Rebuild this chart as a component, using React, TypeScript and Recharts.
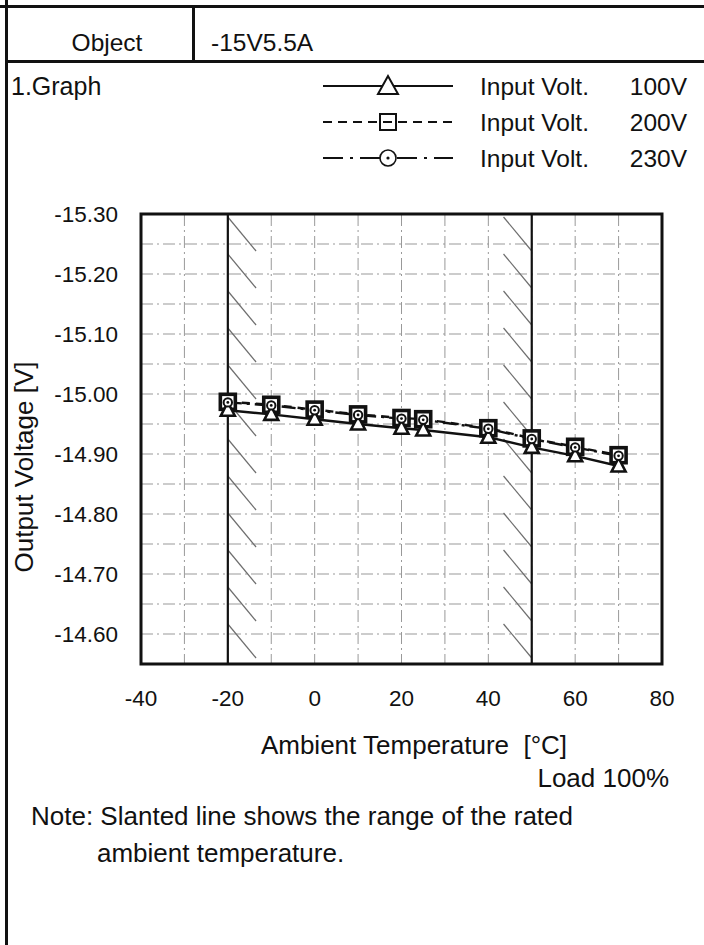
import React from 'react'
import {
  LineChart,
  Line,
  XAxis,
  YAxis,
  CartesianGrid,
  ReferenceLine,
  ReferenceArea,
  Legend,
} from 'recharts'

// Ambient temperature [°C] of each measurement point
const temps = [-20, -10, 0, 10, 20, 25, 40, 50, 60, 70]
// Output voltage [V] for each input voltage
const volt100 = [-14.973, -14.966, -14.958, -14.95, -14.943, -14.94, -14.928, -14.911, -14.897, -14.88]
const volt200 = [-14.987, -14.982, -14.974, -14.966, -14.96, -14.958, -14.943, -14.926, -14.912, -14.898]
const volt230 = [-14.986, -14.981, -14.973, -14.965, -14.959, -14.957, -14.942, -14.925, -14.911, -14.897]

const xTicks = [-40, -30, -20, -10, 0, 10, 20, 30, 40, 50, 60, 70, 80]
const yTicks = [
  -15.3, -15.25, -15.2, -15.15, -15.1, -15.05, -15.0, -14.95,
  -14.9, -14.85, -14.8, -14.75, -14.7, -14.65, -14.6, -14.55,
]
// rated ambient range, hatched inside both edges
const ratedRange = [-20, 50]

const FONT = '"Liberation Sans", Arial, Helvetica, sans-serif'
const INK = '#111'

type MarkerKind = 'triangle' | 'square' | 'circle'

const series: { key: string; volt: string; dash?: string; legendDash?: string; marker: MarkerKind }[] = [
  { key: 'v100', volt: '100V', marker: 'triangle' },
  { key: 'v200', volt: '200V', dash: '8 6', legendDash: '9 6', marker: 'square' },
  { key: 'v230', volt: '230V', dash: '14 5 3 5', legendDash: '20 7 3 7', marker: 'circle' },
]

const rows = temps.map((t, i) => ({ t, v100: volt100[i], v200: volt200[i], v230: volt230[i] }))

function Marker({ kind, cx, cy, big = false }: { kind: MarkerKind; cx: number; cy: number; big?: boolean }) {
  if (kind === 'triangle') {
    const h = big ? 10 : 8
    const b = big ? 8 : 5.5
    const w = big ? 10 : 7
    return (
      <polygon
        points={`${cx},${cy - h} ${cx - w},${cy + b} ${cx + w},${cy + b}`}
        fill="#fff"
        stroke={INK}
        strokeWidth={big ? 2 : 2.6}
        strokeLinejoin="miter"
      />
    )
  }
  if (kind === 'square') {
    const s = big ? 8 : 7.5
    return (
      <rect
        x={cx - s}
        y={cy - s}
        width={s * 2}
        height={s * 2}
        fill={big ? 'none' : '#fff'}
        stroke={INK}
        strokeWidth={big ? 2 : 3.6}
      />
    )
  }
  const r = big ? 8 : 4.2
  return (
    <g>
      <circle cx={cx} cy={cy} r={r} fill="#fff" stroke={INK} strokeWidth={big ? 1.6 : 2} />
      <circle cx={cx} cy={cy} r={big ? 1.6 : 1.4} fill={INK} />
    </g>
  )
}

// short slanted strokes marking the rated temperature band
function Hatch(props: any) {
  const { x, y, width, height } = props
  const step = 37
  const drop = 34
  const segs = []
  for (let y0 = y + 3; y0 < y + height - 4; y0 += step) {
    const y1 = Math.min(y0 + drop, y + height)
    const x1 = x + (width * (y1 - y0)) / drop
    segs.push(<line key={y0} x1={x} y1={y0} x2={x1} y2={y1} stroke="#6e6e6e" strokeWidth={1.2} />)
  }
  return <g>{segs}</g>
}

function LegendBox() {
  return (
    <svg width={386} height={110} style={{ display: 'block', overflow: 'visible' }}>
      {series.map((s, i) => {
        const y = 18 + i * 36
        return (
          <g key={s.key}>
            <line x1={5} x2={135} y1={y} y2={y} stroke={INK} strokeWidth={2} strokeDasharray={s.legendDash} />
            <Marker kind={s.marker} cx={70} cy={y} big />
            <text x={162} y={y} dy="0.36em" fontFamily={FONT} fontSize={24.5} fill={INK}>
              Input Volt.
            </text>
            <text x={369} y={y} dy="0.36em" textAnchor="end" fontFamily={FONT} fontSize={24.5} fill={INK}>
              {s.volt}
            </text>
          </g>
        )
      })}
    </svg>
  )
}

const textBase: React.CSSProperties = {
  position: 'absolute',
  fontFamily: FONT,
  color: INK,
  whiteSpace: 'nowrap',
  lineHeight: 1,
}

export default function App() {
  const tickStyle = { fill: INK, fontSize: 22.5, fontFamily: FONT }
  return (
    <div style={{ position: 'absolute', left: 0, top: 0, width: 704, height: 945, background: '#fff', overflow: 'hidden' }}>
      {/* sheet frame */}
      <div style={{ position: 'absolute', left: 5, top: 0, width: 3, height: 945, background: INK }} />
      <div style={{ position: 'absolute', left: 0, top: 5, width: 704, height: 2.5, background: INK }} />
      <div style={{ position: 'absolute', left: 5, top: 60, width: 699, height: 2.5, background: INK }} />
      <div style={{ position: 'absolute', left: 192, top: 6, width: 3, height: 55, background: INK }} />

      <div style={{ ...textBase, left: 107, top: 43, fontSize: 24.5, transform: 'translate(-50%, -50%)' }}>Object</div>
      <div style={{ ...textBase, left: 211, top: 43, fontSize: 24.5, transform: 'translateY(-50%)' }}>-15V5.5A</div>
      <div style={{ ...textBase, left: 11, top: 86, fontSize: 25, transform: 'translateY(-50%)' }}>1.Graph</div>

      <div style={{ position: 'absolute', left: 0, top: 0 }}>
        <LineChart width={704} height={945} data={rows} margin={{ top: 214, right: 42, bottom: 241, left: 61 }}>
          <CartesianGrid stroke="#999" strokeWidth={1} strokeDasharray="12 4 2 4" />
          <ReferenceArea x1={ratedRange[0]} x2={-13.5} fill="none" shape={Hatch} />
          <ReferenceArea x1={43.5} x2={ratedRange[1]} fill="none" shape={Hatch} />
          <ReferenceLine x={ratedRange[0]} stroke={INK} strokeWidth={2.2} />
          <ReferenceLine x={ratedRange[1]} stroke={INK} strokeWidth={2.2} />
          <XAxis
            type="number"
            dataKey="t"
            domain={[-40, 80]}
            ticks={xTicks}
            tickFormatter={(v: number) => (v % 20 === 0 ? String(v) : '')}
            axisLine={false}
            tickLine={false}
            tickSize={0}
            tickMargin={26}
            height={40}
            tick={tickStyle}
            interval={0}
          />
          <YAxis
            type="number"
            domain={[-15.3, -14.55]}
            reversed
            ticks={yTicks}
            tickFormatter={(v: number) => (Math.round(v * 100) % 10 === 0 ? v.toFixed(2) : '')}
            axisLine={false}
            tickLine={false}
            tickSize={0}
            tickMargin={23}
            width={80}
            tick={tickStyle}
            interval={0}
            allowDataOverflow
          />
          {[series[1], series[0], series[2]].map(s => (
            <Line
              key={s.key}
              type="linear"
              dataKey={s.key}
              stroke={INK}
              strokeWidth={2.4}
              strokeDasharray={s.dash}
              isAnimationActive={false}
              dot={(p: any) => <Marker key={`${s.key}-${p.index}`} kind={s.marker} cx={p.cx} cy={p.cy} />}
              activeDot={false}
            />
          ))}
          <ReferenceArea x1={-40} x2={80} y1={-15.3} y2={-14.55} fill="none" stroke={INK} strokeWidth={3} />
          <Legend
            layout="horizontal"
            verticalAlign="middle"
            align="center"
            content={LegendBox}
            wrapperStyle={{ left: 318, top: 68, width: 386, height: 110 }}
          />
        </LineChart>
      </div>

      {/* axis titles and notes */}
      <div
        style={{
          ...textBase,
          left: 24,
          top: 467,
          fontSize: 26,
          transform: 'translate(-50%, -50%) rotate(-90deg)',
        }}
      >
        Output Voltage [V]
      </div>
      <div style={{ ...textBase, left: 414, top: 745, fontSize: 26, transform: 'translate(-50%, -50%)' }}>
        Ambient Temperature&nbsp;&nbsp;[°C]
      </div>
      <div style={{ ...textBase, right: 704 - 669, top: 778, fontSize: 26, transform: 'translateY(-50%)' }}>Load 100%</div>
      <div style={{ ...textBase, left: 31, top: 816, fontSize: 26, transform: 'translateY(-50%)' }}>
        Note: Slanted line shows the range of the rated
      </div>
      <div style={{ ...textBase, left: 97, top: 853, fontSize: 26, transform: 'translateY(-50%)' }}>ambient temperature.</div>
    </div>
  )
}
